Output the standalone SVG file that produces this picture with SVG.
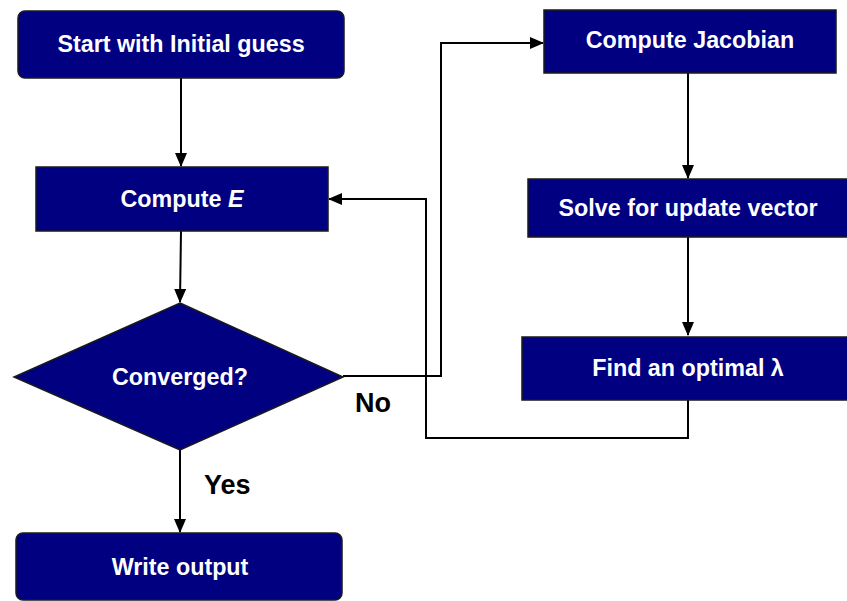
<svg xmlns="http://www.w3.org/2000/svg" width="847" height="601" viewBox="0 0 847 601">
<style>
.node{fill:#000080;stroke:#1a1a1a;stroke-width:1.5}
.t{font-family:"Liberation Sans",Arial,sans-serif;font-weight:bold;font-size:23.3px;fill:#ffffff;text-anchor:middle}
.lbl{font-family:"Liberation Sans",Arial,sans-serif;font-weight:bold;font-size:27px;fill:#000000}
.c{fill:none;stroke:#000000;stroke-width:2}
</style>
<defs>
<marker id="ah" markerWidth="14" markerHeight="12" refX="13" refY="6" orient="auto" markerUnits="userSpaceOnUse">
<path d="M0,0 L14,6 L0,12 Z" fill="#000000"/>
</marker>
</defs>
<rect width="847" height="601" fill="#ffffff"/>
<g id="connectors">
<line class="c" x1="181" y1="78" x2="181" y2="166" marker-end="url(#ah)"/>
<line class="c" x1="181" y1="231" x2="180" y2="302" marker-end="url(#ah)"/>
<polyline class="c" points="343,376 441,376 441,43 543,43" marker-end="url(#ah)"/>
<line class="c" x1="688" y1="73" x2="688" y2="178" marker-end="url(#ah)"/>
<line class="c" x1="688" y1="237" x2="688" y2="335" marker-end="url(#ah)"/>
<polyline class="c" points="688,400 688,438 426,438 426,199 329,199" marker-end="url(#ah)"/>
<line class="c" x1="180" y1="450" x2="180" y2="532" marker-end="url(#ah)"/>
</g>
<g id="start">
<rect class="node" x="18" y="11" width="326" height="67" rx="7"/>
<text class="t" x="181" y="52">Start with Initial guess</text>
</g>
<g id="computeE">
<rect class="node" x="36" y="167" width="292" height="64"/>
<text class="t" x="182" y="207">Compute <tspan font-style="italic">E</tspan></text>
</g>
<g id="converged">
<polygon class="node" points="180,303 343,377 180,450 14,377"/>
<text class="t" x="180" y="385">Converged?</text>
</g>
<g id="write">
<rect class="node" x="16" y="533" width="326" height="67" rx="7"/>
<text class="t" x="180" y="575">Write output</text>
</g>
<g id="jacobian">
<rect class="node" x="544" y="10" width="292" height="63"/>
<text class="t" x="690" y="48">Compute Jacobian</text>
</g>
<g id="solve">
<rect class="node" x="528" y="179" width="325" height="58"/>
<text class="t" x="688" y="216">Solve for update vector</text>
</g>
<g id="find">
<rect class="node" x="522" y="337" width="331" height="63"/>
<text class="t" x="688" y="376">Find an optimal λ</text>
</g>
<g id="labels">
<text class="lbl" x="355" y="412">No</text>
<text class="lbl" x="204" y="494">Yes</text>
</g>
</svg>
